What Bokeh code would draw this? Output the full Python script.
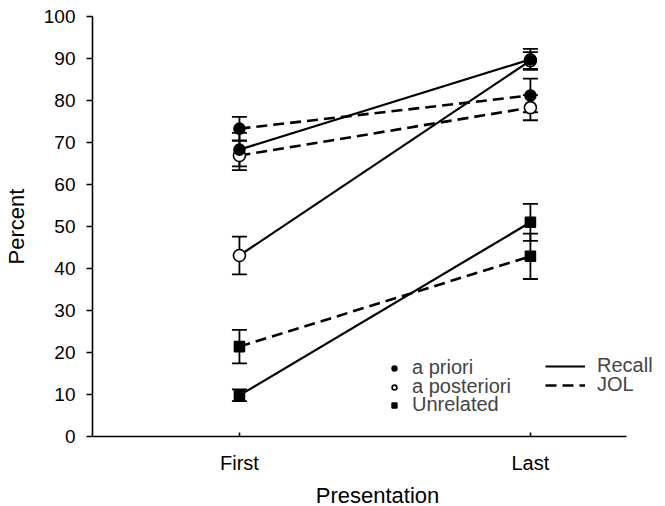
from bokeh.plotting import figure
from bokeh.models import (ColumnDataSource, Range1d, Whisker, TeeHead, Legend,
                          LegendItem, SingleIntervalTicker, FixedTicker)
from bokeh.embed import file_html
from bokeh.resources import INLINE

FONT = "Liberation Sans"

presentation = ["First", "Last"]
x_pos = [1, 2]
conditions = ["a priori", "a posteriori", "Unrelated"]

recall = {
    "a priori": [68.3, 89.8],
    "a posteriori": [43.1, 89.5],
    "Unrelated": [9.8, 51.0],
}
recall_err = {
    "a priori": [4.0, 2.5],
    "a posteriori": [4.5, 2.0],
    "Unrelated": [1.4, 4.4],
}
jol = {
    "a priori": [73.3, 81.2],
    "a posteriori": [66.9, 78.3],
    "Unrelated": [21.4, 42.9],
}
jol_err = {
    "a priori": [2.8, 4.0],
    "a posteriori": [3.5, 3.0],
    "Unrelated": [4.0, 5.4],
}

marker_style = {
    "a priori": dict(marker="circle", size=11, fill_color="black"),
    "a posteriori": dict(marker="circle", size=12, fill_color="white"),
    "Unrelated": dict(marker="square", size=10, fill_color="black"),
}

p = figure(frame_width=570, frame_height=420, output_backend="svg",
           toolbar_location=None,
           x_range=Range1d(0.495, 2.454), y_range=Range1d(0, 100),
           min_border_left=90, min_border_right=5, min_border_top=16,
           min_border_bottom=66)
p.outline_line_color = None
p.xgrid.visible = False
p.ygrid.visible = False
p.background_fill_color = "white"

# lines
recall_lines = []
jol_lines = []
for cond in conditions:
    recall_lines.append(p.line(x_pos, recall[cond], line_color="black", line_width=2.2))
    jol_lines.append(p.line(x_pos, jol[cond], line_color="black", line_width=2.6,
                            line_dash="11 6"))

# error bars
for series, errs in ((recall, recall_err), (jol, jol_err)):
    for cond in conditions:
        ys = series[cond]
        es = errs[cond]
        src = ColumnDataSource(dict(x=x_pos,
                                    lo=[y - e for y, e in zip(ys, es)],
                                    hi=[y + e for y, e in zip(ys, es)]))
        w = Whisker(base="x", lower="lo", upper="hi", source=src,
                    line_color="black", line_width=1.8,
                    upper_head=TeeHead(size=15, line_width=1.8, line_color="black"),
                    lower_head=TeeHead(size=15, line_width=1.8, line_color="black"))
        p.add_layout(w)

# markers (open first, then filled)
marker_renderers = {}
for cond in ["a posteriori", "Unrelated", "a priori"]:
    st = marker_style[cond]
    for series in (jol, recall):
        r = p.scatter(x_pos, series[cond], marker=st["marker"], size=st["size"],
                      fill_color=st["fill_color"], line_color="black", line_width=1.6)
        marker_renderers[cond] = r

# axes
p.xaxis.ticker = FixedTicker(ticks=x_pos)
p.xaxis.major_label_overrides = {x: lab for x, lab in zip(x_pos, presentation)}
p.xaxis.bounds = (0.495, 2.33)
p.xaxis.major_tick_in = 4
p.xaxis.major_tick_out = 0
p.xaxis.minor_tick_line_color = None
p.xaxis.axis_label = "Presentation"
p.yaxis.ticker = SingleIntervalTicker(interval=10)
p.yaxis.major_tick_in = 0
p.yaxis.major_tick_out = 6
p.yaxis.minor_tick_line_color = None
p.yaxis.axis_label = "Percent"
for ax in (p.xaxis[0], p.yaxis[0]):
    ax.axis_line_width = 1.6
    ax.axis_line_color = "black"
    ax.major_tick_line_width = 1.6
    ax.major_tick_line_color = "black"
    ax.major_label_text_font = FONT
    ax.major_label_text_font_size = "19px"
    ax.major_label_text_color = "black"
    ax.axis_label_text_font = FONT
    ax.axis_label_text_font_size = "22px"
    ax.axis_label_text_font_style = "normal"
    ax.axis_label_text_color = "black"
p.xaxis.major_label_text_font_size = "20px"
p.xaxis.major_label_standoff = 15
p.xaxis.axis_label_standoff = 6
p.yaxis.major_label_standoff = 11
p.yaxis.axis_label_standoff = 12


def add_legend_row(label, renderer, loc, glyph_width):
    leg = Legend(
        items=[LegendItem(label=label, renderers=[renderer])],
        location=loc, glyph_width=glyph_width, glyph_height=12, label_standoff=12,
        spacing=0, padding=0, margin=0, label_height=18,
        border_line_color=None, background_fill_alpha=0,
        label_text_font=FONT, label_text_font_size="20px")
    p.add_layout(leg, "center")


# marker legend (one row each)
for cond, y_loc in zip(conditions, [57, 38, 20]):
    add_legend_row(cond, marker_renderers[cond], (296, y_loc), 12)
# line-style legend
add_legend_row("Recall", recall_lines[0], (453, 59), 40)
add_legend_row("JOL", jol_lines[0], (453, 40), 40)

open("out.html", "w").write(file_html(p, INLINE))
